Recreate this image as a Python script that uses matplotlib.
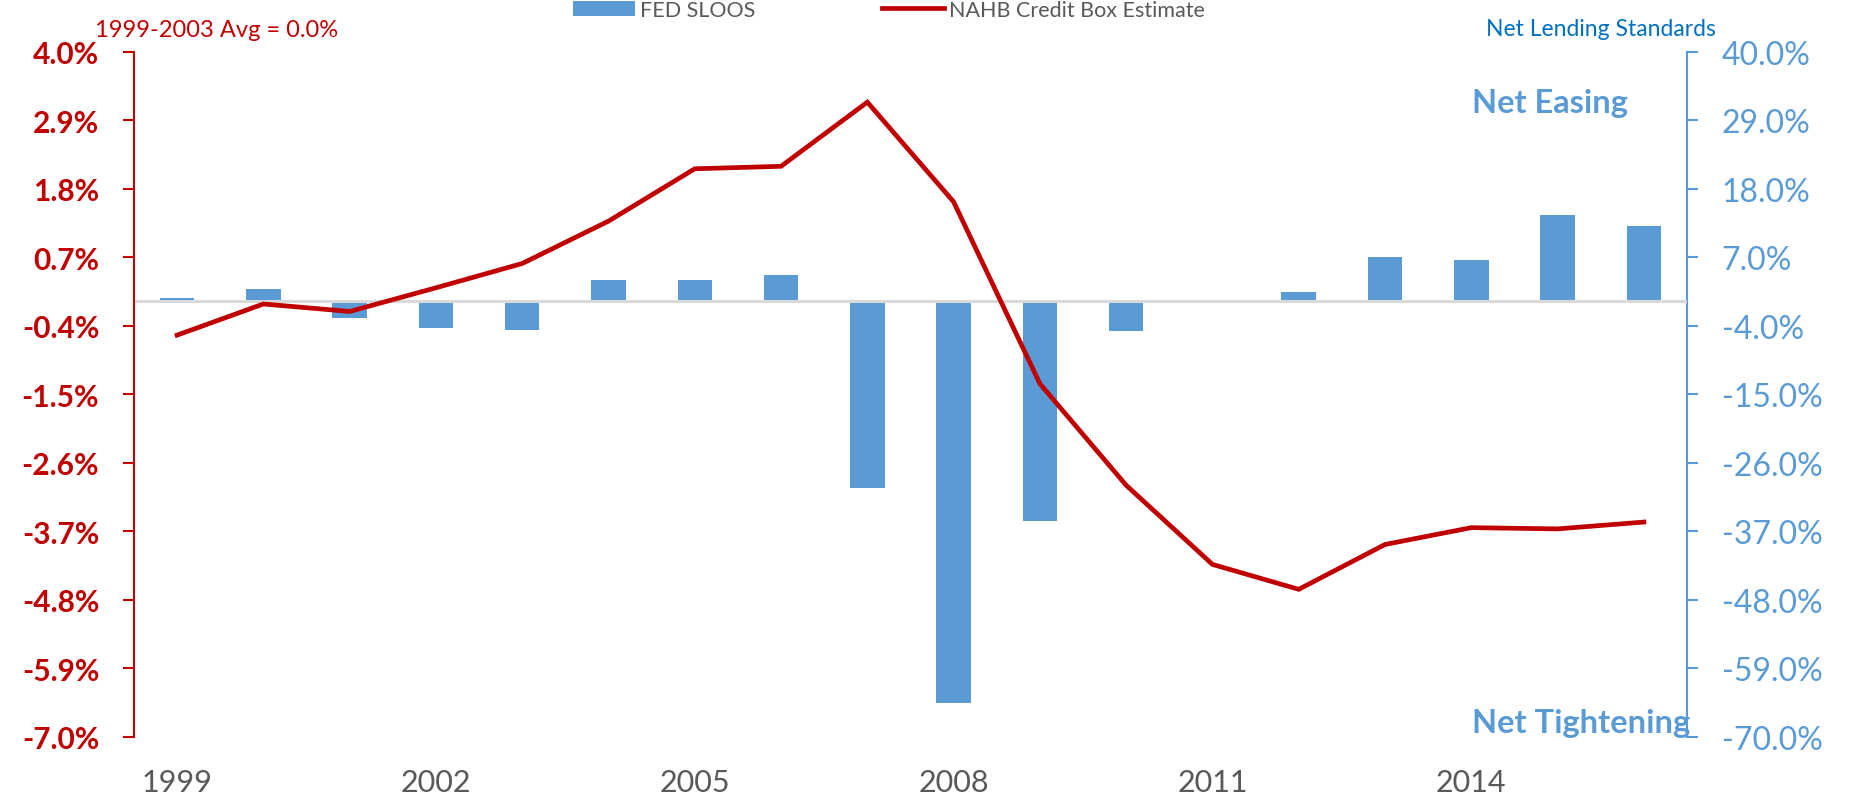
import numpy as np
import matplotlib
matplotlib.use("Agg")
import matplotlib.pyplot as plt

plt.rcParams['font.family'] = ['Lato', 'DejaVu Sans']

# annual values
years = list(range(1999, 2017))
credit_box = [-0.55, -0.05, -0.17, 0.21, 0.60, 1.28, 2.12, 2.16, 3.19, 1.59,
              -1.33, -2.96, -4.23, -4.63, -3.91, -3.64, -3.66, -3.55]
sloos = [0.4, 1.9, -2.8, -4.4, -4.7, 3.4, 3.4, 4.2, -30.0, -64.5,
         -35.3, -4.8, 0.0, 1.5, 7.1, 6.6, 13.8, 12.0]
label_years = [1999, 2002, 2005, 2008, 2011, 2014]

RED = '#C00000'
BLUE = '#5B9BD5'
GRAY = '#595959'

fig = plt.figure(figsize=(18.5, 8.04), dpi=100)
ax = fig.add_axes([0.0724, 0.0821, 0.8395, 0.8524])
ax2 = ax.twinx()

x = np.arange(len(years))

# bars on the right axis, drawn underneath the line
bars = ax2.bar(x, sloos, width=0.4, color=BLUE, zorder=2, label='FED SLOOS')
ax2.axhline(0, color='#D9D9D9', lw=2.2, zorder=3)
ax2.set_ylim(-70, 40)
ax2.set_yticks(np.linspace(-70, 40, 11))
ax2.set_yticklabels(['{:.1f}%'.format(v) for v in np.linspace(-70, 40, 11)])

line, = ax.plot(x, credit_box, color=RED, lw=3.4, solid_joinstyle='miter',
                label='NAHB Credit Box Estimate', zorder=5)
ax.set_ylim(-7, 4)
ax.set_yticks(np.linspace(-7, 4, 11))
ax.set_yticklabels(['{:.1f}%'.format(v) for v in np.linspace(-7, 4, 11)])
ax.set_zorder(ax2.get_zorder() + 1)
ax.patch.set_visible(False)

ax.set_xlim(-0.5, len(years) - 0.5)
ax.set_xticks([years.index(y) for y in label_years])
ax.set_xticklabels([str(y) for y in label_years])
ax.tick_params(axis='x', length=0, pad=22, labelsize=22, labelcolor=GRAY)

ax.tick_params(axis='y', colors=RED, length=8, width=1.5, pad=17,
               labelsize=21.5)
for t in ax.get_yticklabels():
    t.set_fontweight('bold')
ax2.tick_params(axis='y', colors=BLUE, length=8, width=1.5, pad=17,
                labelsize=23)

for a in (ax, ax2):
    a.spines['top'].set_visible(False)
    a.spines['bottom'].set_visible(False)
ax.spines['right'].set_visible(False)
ax2.spines['left'].set_visible(False)
ax.spines['left'].set_color(RED)
ax.spines['left'].set_linewidth(1.5)
ax2.spines['right'].set_color(BLUE)
ax2.spines['right'].set_linewidth(1.5)

fig.legend(handles=[bars, line], loc='upper left',
           bbox_to_anchor=(573 / 1850, 1 - 1 / 804), ncol=2, frameon=False,
           fontsize=15.5, labelcolor=GRAY, borderpad=0, borderaxespad=0,
           handlelength=2.9, handletextpad=0.2, columnspacing=5.9)

fig.text(95 / 1850, 1 - 37.3 / 804, '1999-2003 Avg = 0.0%', color=RED,
         fontsize=17, va='baseline', ha='left')
fig.text(1486 / 1850, 1 - 36 / 804, 'Net Lending Standards', color='#0070C0',
         fontsize=16.5, va='baseline', ha='left')
fig.text(1472 / 1850, 1 - 113.3 / 804, 'Net Easing', color=BLUE,
         fontsize=23.5, fontweight='bold', va='baseline', ha='left')
fig.text(1472 / 1850, 1 - 732.7 / 804, 'Net Tightening', color=BLUE,
         fontsize=23.5, fontweight='bold', va='baseline', ha='left')

fig.savefig('out.png', dpi=100)
